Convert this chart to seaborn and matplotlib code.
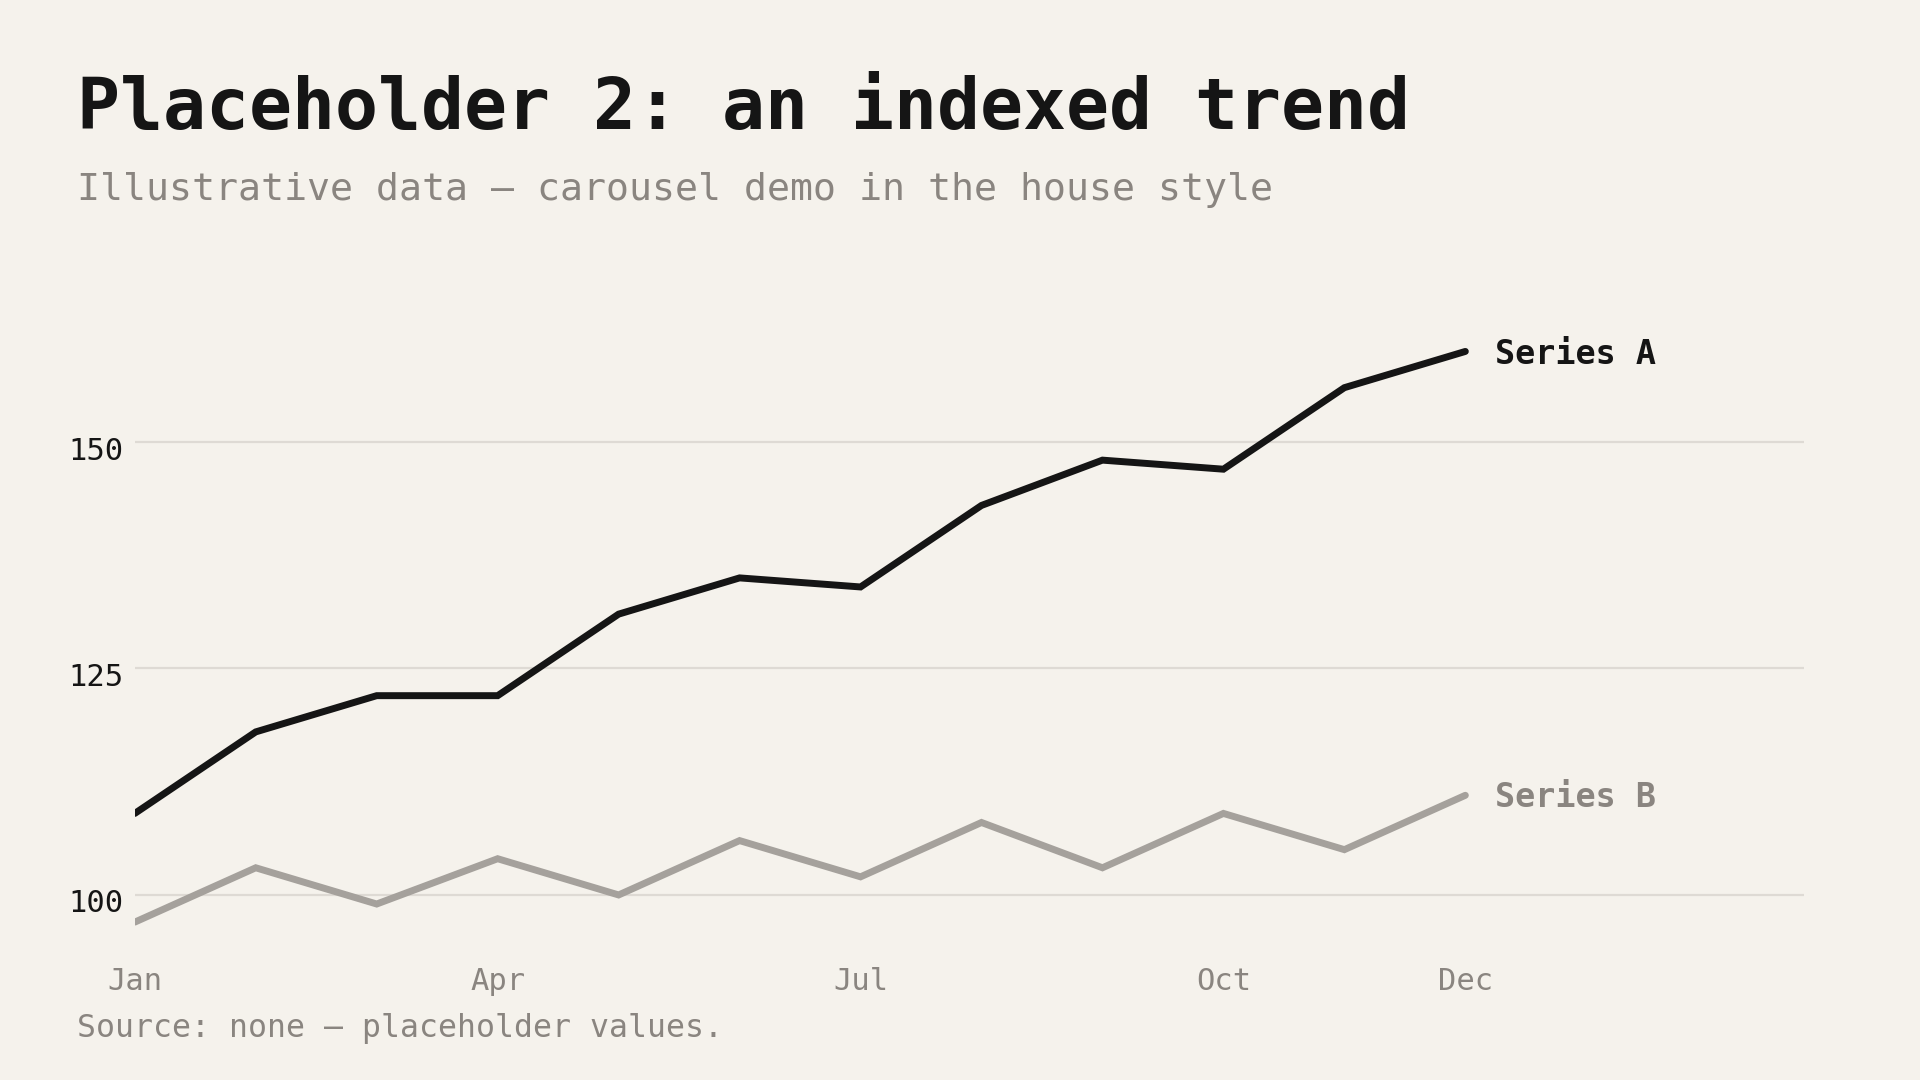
import pandas as pd
import matplotlib.pyplot as plt
import matplotlib.transforms as mtransforms
import seaborn as sns

# chart data
months = ['Jan', 'Feb', 'Mar', 'Apr', 'May', 'Jun',
          'Jul', 'Aug', 'Sep', 'Oct', 'Nov', 'Dec']
series_a = [109, 118, 122, 122, 131, 135, 134, 143, 148, 147, 156, 160]
series_b = [97, 103, 99, 104, 100, 106, 102, 108, 103, 109, 105, 111]
tick_months = ['Jan', 'Apr', 'Jul', 'Oct', 'Dec']
y_ticks = [100, 125, 150]

bg = '#f5f2ec'
ink = '#151515'
muted = '#8a8580'
line_b = '#a5a19c'
grid = '#dedad4'

df = pd.DataFrame({
    'month': months * 2,
    'idx': list(range(len(months))) * 2,
    'value': series_a + series_b,
    'series': ['Series A'] * len(months) + ['Series B'] * len(months),
})

sns.set_theme(style='white')
plt.rcParams['font.family'] = ['DejaVu Sans Mono', 'DejaVu Sans']

fig = plt.figure(figsize=(19.2, 10.8), dpi=100, facecolor=bg)
ax = fig.add_axes([0.0702, 0.1294, 0.8694, 0.6123])
ax.set_facecolor(bg)

sns.lineplot(
    data=df, x='idx', y='value', hue='series',
    palette={'Series A': ink, 'Series B': line_b},
    linewidth=5, legend=False, ax=ax,
    solid_capstyle='round', solid_joinstyle='miter',
)

ax.set_xlim(0, 13.8)
ax.set_ylim(95, 168)

ax.set_yticks(y_ticks)
ax.set_yticklabels([str(v) for v in y_ticks], fontsize=22, color=ink)
ax.set_xticks([months.index(m) for m in tick_months])
ax.set_xticklabels(tick_months, fontsize=22, color=muted)
ax.tick_params(axis='both', length=0)
ax.tick_params(axis='y', pad=8)
ax.tick_params(axis='x', pad=19)

# nudge y labels a little below their gridlines
shift = mtransforms.ScaledTranslation(0, -0.06, fig.dpi_scale_trans)
for lbl in ax.get_yticklabels():
    lbl.set_transform(lbl.get_transform() + shift)

ax.yaxis.grid(True, color=grid, linewidth=1.6)
ax.xaxis.grid(False)
ax.set_axisbelow(True)
for s in ax.spines.values():
    s.set_visible(False)
ax.set_xlabel('')
ax.set_ylabel('')

# end labels
last = len(months) - 1
ax.annotate('Series A', (last, series_a[-1]), xytext=(30, -3),
            textcoords='offset pixels', va='center', ha='left',
            fontsize=24, fontweight='bold', color=ink)
ax.annotate('Series B', (last, series_b[-1]), xytext=(30, -2),
            textcoords='offset pixels', va='center', ha='left',
            fontsize=24, fontweight='bold', color=muted)

# titles
fig.text(0.040, 0.881, 'Placeholder 2: an indexed trend',
         fontsize=51.5, fontweight='bold', color=ink, va='baseline')
fig.text(0.040, 0.815, 'Illustrative data — carousel demo in the house style',
         fontsize=27.5, color=muted, va='baseline')
fig.text(0.040, 0.040, 'Source: none — placeholder values.',
         fontsize=22.7, color=muted, va='baseline')

fig.savefig('out.png', dpi=100, facecolor=bg)
